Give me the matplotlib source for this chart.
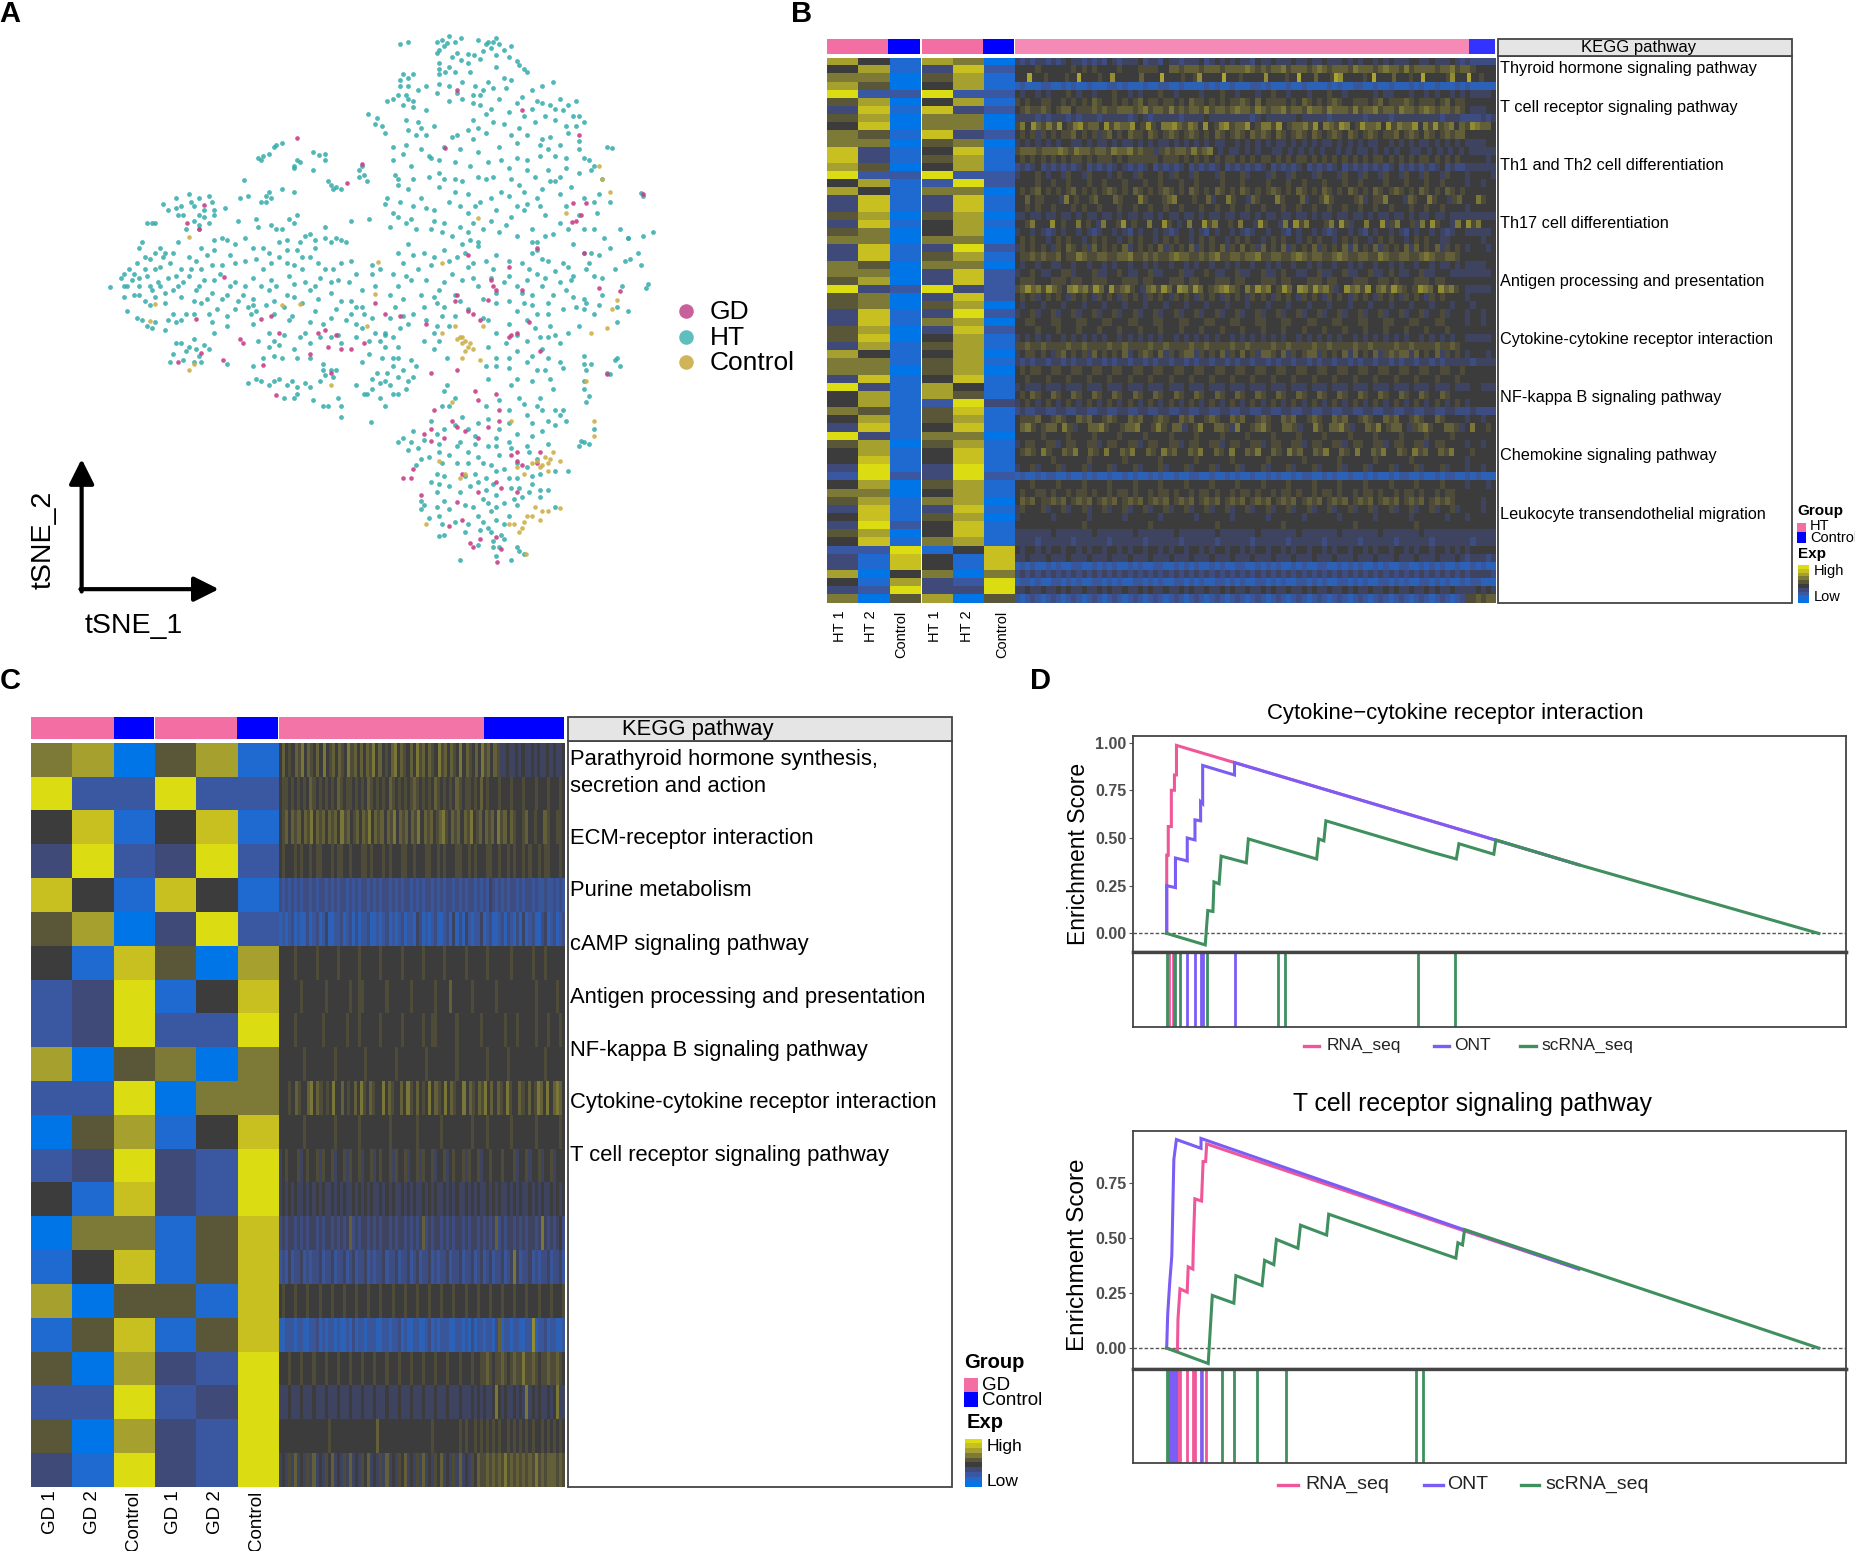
import matplotlib
matplotlib.use('Agg')
import matplotlib.pyplot as plt
import numpy as np
from matplotlib.colors import LinearSegmentedColormap, Normalize
from matplotlib.patches import Rectangle

plt.rcParams['font.family'] = ['Liberation Sans', 'DejaVu Sans']

#=======================================================
# panel A, positions
ht_points = [(775,105),(790,100),(855,95),(870,85),(880,100),(860,110),(925,95),(940,105),(960,90),(965,105),(950,115),(990,110),
(850,150),(870,160),(905,150),(930,140),(960,130),(1000,145),(1015,165),(780,175),(790,185),(850,175),(880,170),(910,170),(960,160),(975,185),(1070,195),(1050,205),
(845,125),(885,125),(905,128),(935,120),(985,135),(775,205),(770,225),(750,240),(790,235),(810,215),(850,200),(885,220),(920,205),(945,195),(990,190),(1030,215),(1115,240),
(780,250),(800,255),(825,262),(870,240),(895,235),(930,225),(965,235),(1000,245),(1040,240),(1065,250),(1090,262),(712,270),(725,295),(745,315),(785,285),(810,290),(840,300),(885,320),(915,285),(940,270),(975,295),(1005,305),(1035,290),(1075,285),(1110,275),(1130,290),
(760,350),(780,365),(805,320),(830,370),(860,350),(880,385),(915,330),(940,315),(965,350),(1000,340),(1045,345),(1065,325),(1100,315),(1175,350),(1185,352),(1120,355),(1075,370),
(765,415),(795,395),(835,375),(850,410),(880,425),(910,395),(945,385),(985,400),(1020,380),(1060,405),(1095,400),(1140,380),(1145,405),(1165,425),
(770,440),(745,485),(790,450),(815,470),(850,445),(870,480),(905,460),(940,425),(970,455),(1005,440),(1040,470),(1075,430),(1105,445),(1130,470),(1180,480),
(760,505),(795,520),(825,495),(860,530),(905,505),(930,480),(960,500),(990,515),(1020,485),(1055,510),(1085,530),(1120,510),(1155,505),(1245,465),(1240,458),
(755,540),(790,580),(835,545),(875,560),(910,570),(935,545),(965,550),(1000,560),(1040,575),(1070,555),(1110,580),(1170,565),(1215,565),(1265,550),(1245,560),
(820,600),(860,595),(900,600),(925,585),(960,605),(1030,600),(1050,615),(1090,625),(1130,600),(1160,605),(1220,615),(1240,630),
(780,625),(810,640),(835,630),(875,650),(905,635),(955,640),(985,655),(1040,650),(1075,645),(1110,655),(1135,640),(1165,660),(1205,680),(1255,675),(1250,685),
(770,680),(795,665),(850,690),(880,700),(925,680),(975,670),(1010,695),(1050,680),(1095,690),(1130,710),(1165,700),(1195,730),(1215,740),
(765,730),(800,745),(845,720),(855,750),(905,735),(960,720),(1000,740),(1030,725),(1060,745),(1090,735),(1130,735),(1160,725),(1195,765),
(790,770),(840,790),(870,775),(945,760),(985,770),(1020,760),(1065,775),(1100,790),(1045,800),(1085,815),
(760,800),(745,795),(840,830),(865,850),(960,850),(1000,835),(1050,830),(1085,860),(1130,845),(1145,865),(1190,855),(1200,870),(1175,885),(1180,888),
(770,850),(795,855),(730,885),(760,870),(745,905),(770,895),(785,925),(710,935),(735,945),(755,915),(770,935),(800,895),(745,965),
(940,870),(985,875),(1020,860),(1055,880),(1090,875),(1135,880),(1130,905),(1140,940),(1135,955),
(860,930),(880,945),(945,900),(990,915),(1030,905),(1070,925),(1040,965),(1050,975),(1085,985),(1095,1000),(1130,1050),(1150,1020),
(855,965),(940,965),(985,975),(1015,960),(1060,1000),(1030,1005),(1000,1030),(965,1020),(920,1035),(880,1010),(835,1000),(800,1025),(780,1040),(820,1045),(850,1055),(890,1050),(945,1060),(985,1050),(1020,1060),(1060,1055),(1120,1060),(1140,1055),
(790,1070),(830,1085),(870,1080),(905,1075),(935,1100),(965,1080),(1000,1100),(1040,1090),
(805,1105),(845,1125),(885,1100),(920,1125),(960,1118),(1030,1130),(1075,1120),(1100,1120),
(850,1150),(890,1170),(925,1145),(955,1150),(990,1160),(1030,1150),(1060,1165),
(815,1190),(860,1190),(900,1200),(935,1185),(975,1195),(1010,1180),(1045,1180),
(815,1210),(830,1230),(850,1225),(880,1240),(925,1225),(950,1215),(985,1225),(1075,1205),
(850,1273),(860,1272),(900,1265),(945,1255),(970,1270),(955,1285),(965,1300),(990,1330),(1005,1310),(890,1330),(925,1295),(960,1320),(1015,1315),
(500,375),(510,370),(530,350),(545,340),(570,395),(580,385),(605,360),(630,365),(605,405),(630,380),(473,428),(465,470),(520,455),(515,480),(545,450),(570,455),(635,430),(650,445),(660,450),(695,405),(710,430),(700,395),
(365,460),(385,470),(405,465),(315,485),(340,495),(355,510),(375,490),(395,500),(415,510),(435,495),(285,530),(300,530),(360,545),(385,545),(405,530),
(495,520),(575,510),(560,520),(525,535),(545,545),(590,560),(630,540),(650,565),(670,575),(680,525),(715,520),
(275,575),(310,590),(320,600),(345,575),(390,590),(415,595),(440,570),(460,525),(475,565),(510,590),(540,575),(575,595),(610,570),
(250,640),(265,625),(290,615),(300,640),(330,625),(350,640),(380,620),(410,630),(445,605),(475,620),(510,640),(540,610),(570,630),(600,610),(630,640),(660,625),(690,650),(720,630),
(212,683),(235,660),(255,665),(270,680),(285,655),(305,670),(325,660),(345,680),(365,655),(395,665),(425,650),(455,670),(490,660),(525,665),(560,655),(590,670),(620,660),(655,665),
(240,705),(270,700),(295,690),(320,695),(350,705),(380,690),(410,695),(440,700),(470,700),(490,710),(520,690),(555,700),(600,690),(640,695),(680,715),(700,730),
(245,740),(275,760),(290,725),(335,745),(360,745),(390,720),(420,735),(455,735),(485,745),(515,725),(550,730),(585,720),(610,740),(650,735),(680,745),(720,755),
(295,780),(320,785),(340,765),(410,765),(440,775),(490,770),(520,790),(560,760),(590,790),(625,770),(655,795),(700,780),(745,790),(775,780),
(350,815),(375,805),(395,820),(360,835),(385,845),(335,840),(415,790),(500,810),(540,820),(570,830),(620,800),(660,815),(715,810),(745,825),
(330,860),(375,860),(440,865),(490,870),(530,845),(575,850),(625,865),(650,880),(700,860),(760,850),
(480,910),(505,905),(520,915),(540,900),(565,905),(575,935),(600,920),(630,890),(655,945),(635,965),(660,965),(660,990),(605,950),(550,945),(718,1003)]

ht_points_2 = [(845,100),(865,102),(893,90),(850,118),(875,135),(893,142),(918,130),(945,100),(955,100),(975,118),(1005,155),(1020,170),(850,165),(862,170),(800,175),(775,190),(790,205),(760,235),(785,225),(800,240),(825,205),(845,222),(870,205),(895,195),(915,225),(935,215),(955,210),(980,210),(1010,230),(1030,260),(1050,245),(1075,260),(1100,250),(1085,235),(1120,275),(915,245),(930,250),(950,260),(985,265),(1015,275),(1055,275),(1095,300),(1115,300),
(730,280),(740,300),(790,310),(815,305),(825,320),(875,325),(905,310),(925,305),(955,290),(990,320),(1020,320),(1050,330),(1085,345),(1120,335),(1060,355),(1045,370),(1095,375),(1130,375),(1150,395),(1120,410),(1085,420),(1065,430),(1035,420),(1000,375),(970,380),(925,360),(890,355),(850,380),(815,355),(785,345),(760,380),(770,425),(800,425),(830,420),(860,425),(895,430),(925,420),(955,420),(990,425),(1020,405),
(750,470),(775,480),(800,490),(840,500),(880,455),(890,490),(920,490),(950,470),(985,465),(1015,455),(1050,450),(1085,460),(1015,500),(1045,490),(1000,490),(1095,490),(1150,480),(1160,460),
(770,515),(785,530),(805,545),(840,525),(855,550),(890,540),(915,530),(905,550),(925,575),(895,580),(950,525),(980,535),(1030,545),(1040,595),(1030,575),(1055,560),(1100,545),(1130,545),(1150,545),(1200,545),(1215,565),(1235,600),(1210,620),(1180,590),(1145,600),
(770,600),(800,605),(840,610),(870,620),(885,610),(915,625),(940,620),(985,620),(1010,625),(1025,640),(1060,620),(1100,635),(1140,625),(1150,655),(1190,640),(1105,665),(1085,670),(1055,660),(1020,665),(950,660),(915,660),(895,665),(860,670),(825,665),(785,655),(760,650),
(755,700),(780,710),(815,700),(840,705),(860,730),(890,715),(935,710),(960,695),(1000,680),(1030,700),(1070,700),(1110,705),(1135,720),(1150,745),(1115,730),(1060,720),(1040,745),(1015,720),(985,715),(935,755),(880,750),(820,730),(780,750),(755,755),
(825,760),(845,775),(960,790),(1000,795),(1035,780),(1060,800),(1075,795),(1120,775),(820,810),(850,810),(945,825),(980,815),(1020,810),(1060,850),(1030,845),(985,850),(960,870),(1000,900),(1065,900),(1040,880),(1130,865),(1195,850),(1130,925),
(720,900),(735,910),(750,885),(780,880),(790,905),(720,925),(760,935),(805,870),(770,825),(740,850),(865,915),(870,965),(895,990),(925,1005),(945,995),(965,950),(1005,945),(1045,945),(1020,985),(1075,975),(1090,975),(1075,1010),(1050,1025),(1030,1035),(985,1005),(960,1040),(905,1020),(860,1020),(845,1030),(795,1050),(770,1050),(1125,1048),
(810,1065),(850,1075),(885,1060),(920,1055),(960,1060),(990,1065),(1025,1075),(815,1090),(855,1100),(905,1100),(925,1085),(950,1105),(975,1115),(1020,1110),(860,1130),(835,1145),(900,1130),(940,1135),(1000,1135),(1045,1125),(985,1135),
(870,1155),(910,1155),(940,1165),(1005,1160),(1045,1165),(845,1170),(1025,1170),(960,1175),(995,1185),(820,1200),(845,1205),(870,1210),(915,1205),(945,1195),(960,1205),(1000,1200),(855,1245),(905,1245),(935,1240),(960,1235),(975,1245),(950,1265),(930,1260),(955,1300),(975,1280),(1000,1300),
(520,365),(505,380),(535,345),(575,380),(618,368),(570,400),(640,440),(645,450),(705,415),(695,420),(515,465),(525,470),(505,480),(480,465),(340,470),(370,480),(410,480),(325,500),(350,490),(385,510),(375,525),(395,515),(345,510),(295,530),(415,500),(385,535),
(500,540),(535,545),(570,530),(555,570),(580,575),(600,555),(630,565),(610,590),(640,575),(660,570),(585,610),(555,595),(520,600),(490,590),(455,580),(430,565),(415,570),(400,605),(365,610),(335,600),(315,610),(300,600),(270,590),(280,610),
(240,650),(245,680),(260,650),(280,640),(310,635),(340,655),(370,640),(390,640),(430,630),(455,625),(495,615),(525,625),(555,625),(585,640),(615,625),(645,640),(680,620),(720,650),(735,640),
(270,660),(290,680),(310,680),(335,690),(355,670),(385,680),(415,665),(445,680),(475,680),(505,680),(535,680),(570,675),(610,680),(640,670),(675,670),(700,690),(725,680),
(240,680),(260,700),(280,715),(300,705),(320,720),(375,715),(400,710),(430,710),(460,715),(490,725),(530,715),(570,705),(615,710),(660,715),(690,730),(705,745),
(265,755),(285,775),(300,765),(325,760),(350,760),(375,745),(405,745),(440,750),(480,730),(495,740),(530,745),(565,750),(600,765),(640,755),(670,760),(690,770),(725,790),
(340,815),(365,825),(380,830),(405,830),(355,855),(390,860),(530,810),(520,825),(550,795),(580,800),(600,815),(640,800),(690,800),(735,810),(510,850),(545,850),(600,850),(625,880),(640,880),(715,840),
(495,900),(530,905),(555,915),(575,920),(590,910),(620,905),(645,895),(570,945),(625,965),(705,935),(690,915)]

gd_points = [(575,327),(700,390),(672,435),(395,487),(362,530),(385,545),(434,657),(380,757),(465,805),(470,815),(345,860),(390,838),(432,855),(510,866),(535,938),(505,757),(525,750),(615,790),(630,785),(650,795),(680,830),(705,815),(635,825),(745,745),(725,720),
(862,352),(885,215),(1010,262),(1120,320),(1110,482),(1135,482),(1125,510),(1108,527),(1040,590),(1130,600),(1245,460),(905,605),(985,635),(955,680),(1010,690),(1160,685),(1200,692),(880,715),(945,712),(915,745),(990,795),(1025,765),(835,885),(1175,888),(920,930),(960,935),(840,975),(885,1015),(875,1000),(820,1030),(835,1048),(925,1040),(965,1000),(990,1080),(1000,1095),(1045,1075),(780,1135),(795,1135),(815,1175),(885,1192),(925,1170),(970,1160),(895,1235),(910,1290),(930,1280),(970,1305),(962,1335),(870,1250),
(1115,525),(950,665),(960,690),(885,700),(905,740),(930,760),(1000,790),(985,800),(1045,835),(825,770),(775,750),(885,880),(925,950),(965,975),(835,1020),(900,1025),(860,1040),(945,1015),(800,1115),(1000,1075),(1040,1100),(1010,1105),(895,1125),(960,1145),(1000,1170),(915,1300),(960,1275),(640,885),(600,840),(660,830),(540,790)]

ctrl_points = [(365,562),(300,722),(290,762),(365,880),(375,865),(640,915),(732,622),(725,698),(710,775),(580,722),(545,725),(855,625),(855,790),(880,775),(890,800),(900,810),(905,825),(895,815),(915,830),(895,850),(935,775),(930,855),(1160,395),(1165,425),(1180,455),(1095,505),(925,518),(1195,712),(1185,735),(1175,780),(1145,790),(1135,905),(1150,1000),(1150,1035),(990,1000),(875,955),(850,1095),(890,1135),(1000,1110),(1040,1095),(1055,1085),(1050,1105),(1070,1075),(1085,1095),(1060,1120),(1015,1125),(1035,1205),(1050,1215),(1020,1225),(1085,1208),(1005,1265),(1015,1240),(985,1245),(825,1245),(1018,1315),
(885,805),(895,800),(910,815),(900,835),(1065,1090),(1045,1110),(1060,1100),(1030,1100),(1030,1225),(1045,1235),(1010,1255),(995,1245),(1060,1215),(900,1125)]

#=======================================================
# panel B, levels 0 (low) .. 9 (high), one string per gene
bulk_b = ['741760','471382','660571','750471','922922','570471','381832','570660','480660','651832',
'660560','831481','831571','750471','922922','471292','741660','381381','381381','570570',
'381471','560470','660660','381392','381571','650660','660382','570382','932932','560382',
'560570','381392','381670','570382','580471','371571','741470','661571','660570','381481',
'931741','471751','471293','651581','471571','381481','931660','570571','471481','481481',
'391391','292392','470571','660471','571670','381381','481570','392481','570481','481671',
'229148','318418','318418','704606','417329','329339','605705']

cells_b = [
'3232332323433232324323334233243323334234343433243343334334334333434344343433344334333432322222',
'4444544444454545444454445555446656665666566667656566756665676566657666567665756666566756654444',
'44494445444454494444544844444464444944445445844444944454444484444544944464445984444454944446444544944444584449445444',
'0100011001010010001101000100110010000101001000110100010010000101001100100100010100100010100000',
'4344343444543443444544343444544344443444544344434454434443444544344444343344434434344343433334',
'5454455445454546544545456455455454655454545565464555545465454565445554564555654555456455444444',
'4565565456645556565566656756657565665756656766576566756657665766657566756657665676566565433344',
'3333232333232333233333234323333323333433333333234333333433333233333323333233333333323332222323',
'57486575845785664857668458547786576484578566845775845667584765874586674857668475856746587664',
'4545354545564545356454655465456545654546545654656546545654654565465456545564565465456566444444',
'3434343434433434334343343434334343434343344343434343343434343343434343344343434334343434333344',
'566656667657665665766756553565665756743433434344334343434344343433434343443343434343433333',
'4545454545455454555454555555455545454545455454545545454554545454545454554545454554545454444434',
'2323423232323423232343232342323234232323423232323423232342323234232323232342323232342322333333',
'3444543443544354443454435444543544354443544453444354435444354443544354435443544354435444344443',
'4444544544544454454445444544544454454444544454444544454454445444544544445444544454454444344344',
'4545645454564545456545465454565454654546545465454565454654546545465454654565454654546545444444',
'44645544437454456444654447544456744454463447544365444754446344575444456345574443654475443564447544',
'4454544544454544544454454454454454445445445445445444544544544544544544544544454454454444344444',
'3343343343343433433434334334343343343433433433434334334334343343343343433433434334334333333333',
'44574448454474543744584544744854347448574454744385443748574445748534474483574453748544374857444',
'3443432343443432344343243443432344343243443432344344324344343234434324344343243443432344333334',
'4545443454544345454434545443454544345454434545443454544345454434545443454544345454433444444344',
'3545454354654536454546345454635454635454635464536454635454635454636454635454636454635454344434',
'4556565564557655665566755656556766556567556656675566556765665567655665576556655676556654444444',
'4344344334434434434344344343443443434434434344344343443443434434434344344343443443433434333344',
'3445433445534445334454334453344453344543344533445334544334453344533445334543344533444333333334',
'4555444555455445554445554554445554554445554554445554554445554554445554455454445554554444444444',
'56867586547867586485675436758648758645678654758674586487586753486758467586545876486754333334',
'4545345454354543545435454354543545435454354543545435454354543545435454354543545435454444344444',
'4344434443444344434443444344434443444344434443444344434443444344434443444344434443444344434444',
'3445344534453445344534453445344534453445344534453445344534453445344534453445344534453444344344',
'4455444554445544455444554445544455444554445544455444554445544455444554445544455444554444344344',
'4444544454445444544454445444544454445444544454445444544454445444544454445444544454445444444444',
'3434343443434343434434343434344343434343443434343434344343434343443434343434344343434344333334',
'5565565555655655556556555565565555655655556556555565565555655655556556555565565555655654444444',
'3455454356454536454546345654635456635454635464536654635456635454636454635656636454635454344434',
'3232332332323323323233233232332332323323323233233232332332323323323233233232332332323333323333',
'4545544554455445544554455445544554455445544554455445544554455445544554455445544554455445444444',
'4454445444544454445444544454445444544454445444544454445444544454445444544454445444544454444444',
'3433343334333433343334333433343334333433343334333433343334333433343334333433343334333433344333',
'4546544654465446544654465446544654465446544654465446544654465446544654465446544654465444444444',
'3454345434543454345434543454345434543454345434543454345434543454345434543454345434543454344444',
'2322332233223322332233223322332233223322332233223322332233223322332233223322332233223322232222',
'4555644565446564456544656445654465644565446564456544656445654465644565446564456544654444344344',
'46754566475344667544566744575466345744665374456754466534475466753446574566435675446653474454',
'4444454444544445444454444544445444454444544445444454444544445444454444544445444454444544444444',
'3455445534554455345544553455445534554455345544553455445534554455345544553455445534554444344344',
'45654754465744654744657446547564465744654744657446547564465744654744657446547564465744454444',
'4444444544444454444445444444544444454444445444444544444454444445444444544444454444444444344444',
'3445344453444534445344453444534445344453444534445344453444534445344453444534445344453444344344',
'0100101100100101001001010010100100110010010100100101001011001010010010100101100100101100101000',
'4445444454444544445444454444544445444454444544445444454444544445444454444544445444454444344434',
'4544554544545545445455454454554544545545445455454454554544545545445455454454554544545544444444',
'4656455656456564565645656456564565645656456564565645656456564565645656456564565645656544444344',
'3544453445344534453445344534453445344534453445344534453445344534453445344534453445344534444344',
'3444444344444434444443444444344444434444443444444344444434444443444444344444434444443444344444',
'4444444444444544444444444454444444444445444444444444544444444444445444444444445444444444444444',
'3333333433333334333333343333333433333334333333343333333433333334333333343333333433333333333333',
'3333233333323333332333333233333323333332333333233333323333332333333233333323333332333333323333',
'4344343443443434434434344344343443443434434434344344343443443434434434344344343443443434344444',
'3343334333433343334333433343334333433343334333433343334333433343334333433343334333433343233323',
'0101001010011001010100101001100101010010100110010101001010011001010100101001100101010010010100',
'2323232323232323232323232323232323232323232323232323232323232323232323232323232323232323233332',
'0110100110101001101010011010100110101001101010011010100110101001101010011010100110101001011000',
'3343343343433433434334334343343343433433434334334343343343433433434334334343343343433433334343',
'1012101210121012101210121012101210121012101210121012101210121012101210121012101210121012556566']

bulk_c = ['670571','922922','481481','392392','841841','570392','418507','239148','239229','705606',
'229066','057148','239329','418329','066158','148158','705518','158158','507329','229239','507329','319329']

cells_c = [
'46454657465464745646547564646574645467465464756465475646547465464756465334334343343433434334',
'4554545454654545454654554545465454546545454565454546545454654554546454445444544454445444544454',
'456465646574656465647564564657465646574656465746564567546564657456465647564654456445446544554',
'4544454544545544454554454445545444545444554454445544545444554454544455445445454454544545544454',
'2121212122121221212122121212212121221212122121212212121221212122121213212121221212212112112121',
'0101201002012013001120120201120010120101201103201012001203020310113012001202102030120023012012',
'4444454444445444444544444454444445444444544444454444445444444544444454444444544444454445444444',
'4444444544444445444444454455444444454444444544444445444464444445444444454444444444445444444544',
'4444454444444454444444544454444445444444544444454455444444544444445444444454445444445444544454',
'4444444454444444445444444444544444444454444444445444444444544444444454444445444444444445444444',
'44454654467465454744645464754654474654464754645474654746544746546574646547544654645764746764',
'4444444454444444445444444454444444445444444445444444454444444445444454444444544444445444444454',
'3454445345445354453445354453445345445354453445354453445345445354453445444544453445344534453444',
'3434343343434343343434334343434334343433434343343434334343433434343343434334343433434343343434',
'2323323232332323323232362323323232332323323232362323323232332323323232362323323232332373232342',
'1213122312122312231223123122312122312231223123122312122312231223123123122312373122312122312231',
'4544454445444544454445444544454445444544454445444544454445444544454445444544454445444544454445',
'0011101100112010110100102011011100110112010011001201011100110102011011026011011001180112011001',
'4445444544454445444544454445444544454445444544454445444544454445445565455654565575565455655654',
'3334333433343334333433343334333433343334333433343334333433343334343433474343343437343433434733',
'4444444444444444544444444444444464444444444444444454444444454544545454545445454545454454545454',
'3435363435363435463435363435463435363435463435363435463435363435465565656575656565657565666565']

#=======================================================
# panel D, running enrichment score, rank on x
rna1_x = [0,0,3,3,9,9,15,15,19,19,132,802]
rna1_y = [0,.41,.41,.56,.56,.75,.75,.83,.83,.985,.895,.36]
ont1_x = [0,0,17,17,40,40,55,55,66,66,70,70,132,132,802]
ont1_y = [0,.25,.24,.395,.38,.50,.49,.595,.59,.69,.68,.88,.83,.895,.36]
sc1_x = [0,75,80,90,92,102,106,155,159,292,296,306,310,517,564,569,637,641,802,1270]
sc1_y = [0,-.06,.12,.115,.27,.26,.405,.37,.495,.39,.495,.485,.59,.425,.39,.47,.415,.49,.36,0]
rna1_hits = [5,12,15]
ont1_hits = [14,40,55,66,70,132]
sc1_hits = [0,17,26,78,217,230,490,561]

rna2_x = [0,21,22,26,40,42,51,52,55,68,71,76,78,579,804]
rna2_y = [0,-.015,.13,.27,.255,.37,.36,.47,.68,.67,.85,.85,.93,.535,.36]
ont2_x = [0,2,6,10,14,19,67,67,579,804]
ont2_y = [0,.155,.30,.42,.86,.95,.91,.955,.54,.36]
sc2_x = [0,81,89,131,135,186,191,209,214,256,261,312,316,564,568,577,581,1272]
sc2_y = [0,-.07,.24,.205,.33,.285,.40,.38,.495,.455,.56,.515,.61,.41,.48,.47,.54,0]
rna2_hits = [22,26,40,52,55,68,76]
ont2_hits = [2,4,6,10,14,19,67]
sc2_hits = [0,3,108,131,177,233,487,500]

ticks1 = [0,.25,.5,.75,1]
ticks2 = [0,.25,.5,.75]

#=======================================================
S = 1855/1568
W, H = 1855, 1551
fig = plt.figure(figsize=(W/100, H/100), dpi=100)

def px_axes(x0, y0, x1, y1):
    # x0..y1 in shrunk reference pixels
    return fig.add_axes([x0*S/W, 1-y1*S/H, (x1-x0)*S/W, (y1-y0)*S/H])

bg = fig.add_axes([0, 0, 1, 1])
bg.set_xlim(0, W/S)
bg.set_ylim(H/S, 0)
bg.axis('off')

expr = LinearSegmentedColormap.from_list('expr', ['#0075e8','#1f6ad0','#3a58a0','#404a78','#3c3c3c','#5a5638','#7d7a38','#a6a030','#c8c022','#dcdc12'])
PINK, BLUE = '#f36ea3', '#0000ff'
# single cell blocks are much flatter than the bulk columns
FLAT = Normalize(-2.4, 12)

def heat_rows(x0, y0, x1, y1, rows, norm=Normalize(0, 9)):
    a = px_axes(x0, y0, x1, y1)
    for i, r in enumerate(rows):
        a.imshow([[int(c) for c in r]], cmap=expr, norm=norm, aspect='auto',
                 extent=(0, 1, i+1, i), interpolation='nearest')
    a.set_xlim(0, 1)
    a.set_ylim(len(rows), 0)
    a.axis('off')

def band(x0, x1, y0, y1, color):
    bg.add_patch(Rectangle((x0, y0), x1-x0, y1-y0, fc=color, ec='none'))

def box(x0, y0, x1, y1, fc='none'):
    bg.add_patch(Rectangle((x0, y0), x1-x0, y1-y0, fc=fc, ec='#444444', lw=1.3))

#=======================================================
# A
axa = fig.add_axes([0, 1-660/H, 810/W, 660/H])
axa.set_xlim(0, 1568)
axa.set_ylim(1568, 0)
axa.axis('off')
axa.scatter(*zip(*(ht_points + ht_points_2)), s=12, c='#33abab', alpha=.85, lw=0)
axa.scatter(*zip(*gd_points), s=11, c='#c8408a', alpha=.9, lw=0)
axa.scatter(*zip(*ctrl_points), s=11, c='#cfb04a', alpha=.9, lw=0)

for y, c, t in [(263, '#c8609a', 'GD'), (285, '#5fbfbf', 'HT'), (306, '#cfb45a', 'Control')]:
    bg.scatter([580], [y], s=110, c=c, lw=0)
    bg.text(600, y+1, t, fontsize=19, va='center')

bg.annotate('', xy=(69, 388), xytext=(69, 500), arrowprops=dict(arrowstyle='-|>', lw=3, mutation_scale=38, color='k', shrinkA=0, shrinkB=0))
bg.annotate('', xy=(185, 498), xytext=(68, 498), arrowprops=dict(arrowstyle='-|>', lw=3, mutation_scale=38, color='k', shrinkA=0, shrinkB=0))
bg.text(113, 529, 'tSNE_1', fontsize=20.5, ha='center', va='center')
bg.text(37, 456, 'tSNE_2', fontsize=20.5, ha='center', va='center', rotation=90)

for x, y, t in [(-1, 12, 'A'), (669, 12, 'B'), (0, 576, 'C'), (871, 576, 'D')]:
    bg.text(x, y, t, fontsize=21, fontweight='bold', va='center')

#=======================================================
# B
band(699, 751, 33, 46, PINK)
band(751, 778, 33, 46, BLUE)
band(779, 831, 33, 46, PINK)
band(831, 857, 33, 46, BLUE)
band(858, 1242, 33, 46, '#f48ab5')
band(1242, 1264, 33, 46, '#3333ff')
heat_rows(699, 49, 778, 510, [r[:3] for r in bulk_b])
heat_rows(779, 49, 857, 510, [r[3:] for r in bulk_b])
heat_rows(858, 49, 1264, 510, cells_b, FLAT)

box(1266, 47, 1515, 510)
box(1266, 33, 1515, 47, fc='#e5e5e5')
bg.text(1385, 40.5, 'KEGG pathway', fontsize=12, ha='center', va='center')
pathways_b = ['Thyroid hormone signaling pathway', 'T cell receptor signaling pathway', 'Th1 and Th2 cell differentiation',
              'Th17 cell differentiation', 'Antigen processing and presentation', 'Cytokine-cytokine receptor interaction',
              'NF-kappa B signaling pathway', 'Chemokine signaling pathway', 'Leukocyte transendothelial migration']
for y, t in zip([58, 91, 140, 189, 238, 287, 336, 385, 435], pathways_b):
    bg.text(1268, y, t, fontsize=11.7, va='center')
for x, t in zip([710, 736, 762, 790, 817, 847], ['HT 1', 'HT 2', 'Control', 'HT 1', 'HT 2', 'Control']):
    bg.text(x, 516, t, fontsize=10.5, rotation=90, ha='center', va='top')

bg.text(1519, 432, 'Group', fontsize=11, fontweight='bold', va='center')
band(1519, 1527, 442, 450, PINK)
band(1519, 1527, 450, 459, BLUE)
bg.text(1530, 445, 'HT', fontsize=10.5, va='center')
bg.text(1530, 455, 'Control', fontsize=10.5, va='center')
bg.text(1520, 468, 'Exp', fontsize=11, fontweight='bold', va='center')
bg.text(1533, 483, 'High', fontsize=10.5, va='center')
bg.text(1533, 505, 'Low', fontsize=10.5, va='center')
axk = px_axes(1520, 478, 1529, 510)
axk.imshow(np.arange(9, -1, -1)[:, None], cmap=expr, aspect='auto')
axk.axis('off')

#=======================================================
# C
band(26, 96, 606, 625, PINK)
band(96, 130, 606, 625, BLUE)
band(131, 200, 606, 625, PINK)
band(200, 235, 606, 625, BLUE)
band(236, 409, 606, 625, '#f374a6')
band(409, 477, 606, 625, BLUE)
heat_rows(26, 628, 130, 1257, [r[:3] for r in bulk_c])
heat_rows(131, 628, 235, 1257, [r[3:] for r in bulk_c])
heat_rows(236, 628, 477, 1257, cells_c, FLAT)

box(480, 626, 805, 1257)
box(480, 606, 805, 626, fc='#e5e5e5')
bg.text(590, 617, 'KEGG pathway', fontsize=15.8, ha='center', va='center')
pathways_c = ['Parathyroid hormone synthesis,', 'secretion and action', 'ECM-receptor interaction', 'Purine metabolism',
              'cAMP signaling pathway', 'Antigen processing and presentation', 'NF-kappa B signaling pathway',
              'Cytokine-cytokine receptor interaction', 'T cell receptor signaling pathway']
for y, t in zip([642, 665, 709, 753, 798, 843, 888, 932, 977], pathways_c):
    bg.text(482, y, t, fontsize=15.8, va='center')
for x, t in zip([43, 78, 113, 147, 182, 217], ['GD 1', 'GD 2', 'Control', 'GD 1', 'GD 2', 'Control']):
    bg.text(x, 1260, t, fontsize=13.5, rotation=90, ha='center', va='top')

bg.text(815, 1152, 'Group', fontsize=14.5, fontweight='bold', va='center')
band(815, 827, 1165, 1177, PINK)
band(815, 827, 1177, 1189, BLUE)
bg.text(830, 1171, 'GD', fontsize=13.5, va='center')
bg.text(830, 1184, 'Control', fontsize=13.5, va='center')
bg.text(817, 1202, 'Exp', fontsize=14.5, fontweight='bold', va='center')
bg.text(834, 1223, 'High', fontsize=12.5, va='center')
bg.text(834, 1252, 'Low', fontsize=12.5, va='center')
axk = px_axes(816, 1216, 830, 1257)
axk.imshow(np.arange(9, -1, -1)[:, None], cmap=expr, aspect='auto')
axk.axis('off')

#=======================================================
# D
COL = {'rna': '#f0569a', 'ont': '#7b5cf5', 'sc': '#3f8f5f'}

def gsea(x0, x1, y0, ys, y1, xlim, ylim, curves, hits, ticks):
    up = px_axes(x0, y0, x1, ys)
    lo = px_axes(x0, ys, x1, y1)
    up.axhline(0, color='#555555', lw=1, ls=(0, (2.5, 1.5)))
    for (cx, cy), k in zip(curves, ['rna', 'ont', 'sc']):
        up.plot(cx, cy, color=COL[k], lw=2.2, solid_joinstyle='miter')
    up.set_xlim(*xlim)
    up.set_ylim(*ylim)
    up.set_xticks([])
    up.set_yticks(ticks)
    up.set_yticklabels(['%.2f' % t for t in ticks], fontsize=11.5, fontweight='bold', color='#4d4d4d')
    up.tick_params(axis='y', length=3, color='#555555', pad=2)
    for h, k in zip(hits, ['rna', 'ont', 'sc']):
        lo.vlines(h, 0, 1, color=COL[k], lw=2)
    lo.set_xlim(*xlim)
    lo.set_ylim(0, 1)
    lo.set_xticks([])
    lo.set_yticks([])
    for a in (up, lo):
        for s in a.spines.values():
            s.set_color('#444444')
            s.set_linewidth(1.3)
    up.spines['bottom'].set_linewidth(2.4)
    lo.spines['top'].set_linewidth(2.4)

gsea(958, 1560, 622, 805, 868, (-65, 1322), (-.099, 1.035),
     [(rna1_x, rna1_y), (ont1_x, ont1_y), (sc1_x, sc1_y)], [rna1_hits, ont1_hits, sc1_hits], ticks1)
gsea(958, 1560, 956, 1157, 1237, (-65, 1324), (-.094, .989),
     [(rna2_x, rna2_y), (ont2_x, ont2_y), (sc2_x, sc2_y)], [rna2_hits, ont2_hits, sc2_hits], ticks2)

bg.text(1230, 603, 'Cytokine\u2212cytokine receptor interaction', fontsize=15.9, ha='center', va='center')
bg.text(1245, 933, 'T cell receptor signaling pathway', fontsize=17.8, ha='center', va='center')
bg.text(912, 722, 'Enrichment Score', fontsize=16.5, rotation=90, ha='center', va='center')
bg.text(911, 1061, 'Enrichment Score', fontsize=17.5, rotation=90, ha='center', va='center')

for y, fs, items in [(884, 12.5, [(1102, 1115, 1121, 'RNA_seq', 'rna'), (1212, 1225, 1229, 'ONT', 'ont'), (1285, 1298, 1303, 'scRNA_seq', 'sc')]),
                     (1255, 14, [(1080, 1097, 1103, 'RNA_seq', 'rna'), (1204, 1220, 1223, 'ONT', 'ont'), (1286, 1301, 1306, 'scRNA_seq', 'sc')])]:
    for a, b, c, t, k in items:
        bg.plot([a, b], [y, y], color=COL[k], lw=2.4)
        bg.text(c, y, t, fontsize=fs, va='center', color='#222222')

bg.set_xlim(0, W/S)
bg.set_ylim(H/S, 0)

fig.savefig('out.png', dpi=100)
